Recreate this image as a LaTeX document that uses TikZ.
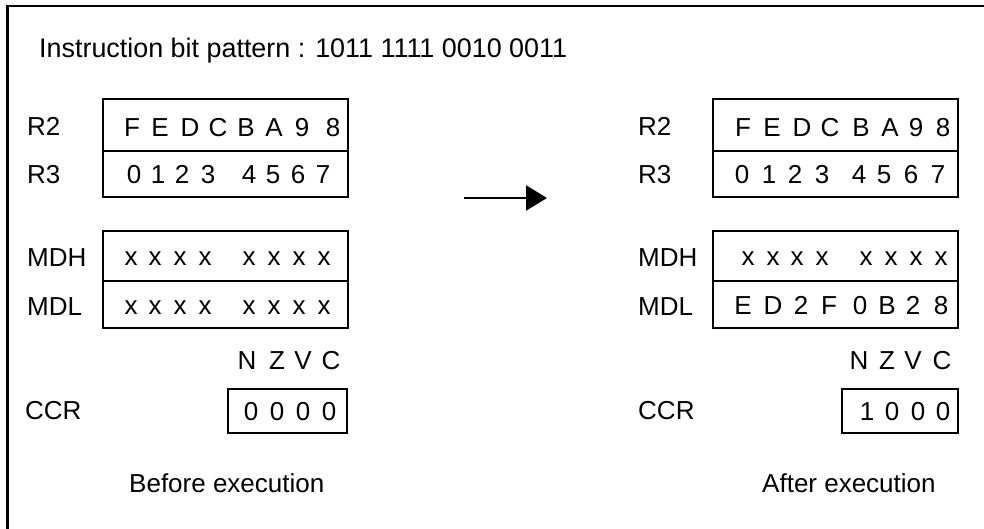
\documentclass[tikz,border=0pt]{standalone}
\usepackage{fontspec}
\setmainfont{Liberation Sans}
\usetikzlibrary{arrows.meta}
\begin{document}
\begin{tikzpicture}[x=1pt,y=-1pt,
  txt/.style={anchor=base, inner sep=0pt, font=\fontsize{26}{30}\selectfont},
  lbl/.style={anchor=base west, inner sep=0pt, font=\fontsize{26}{30}\selectfont},
  titletxt/.style={anchor=base west, inner sep=0pt, font=\fontsize{26.9}{31}\selectfont},
  regbox/.style={draw, line width=1.1pt, inner sep=0pt, minimum width=245pt},
  ccrbox/.style={draw, line width=1.1pt, inner sep=0pt, minimum height=44pt},
  frame/.style={line width=2.5pt},
  goarrow/.style={line width=2.2pt, -{Triangle[length=21pt,width=25pt]}}
]
\useasboundingbox (0,0) rectangle (984,529);
% frame (only top and left edges visible)
\coordinate (fb) at (7.5,529);
\coordinate (fc) at (7.5,6);
\coordinate (fr) at (984,6);
\draw[frame] (fb) -- (fc) -- (fr);

\node[titletxt] (title) at (39,58) {Instruction bit pattern : 1011 1111 0010 0011};

% ---------------- Before ----------------
\node[regbox, minimum height=52pt] (r2L) at (225.5,125) {};
\node[regbox, minimum height=46pt] (r3L) at (225.5,174) {};
\node[regbox, minimum height=50pt] (mdhL) at (225.5,256) {};
\node[regbox, minimum height=47pt] (mdlL) at (225.5,304.5) {};
\node[ccrbox, minimum width=119pt] (ccrL) at (287.5,411) {};

\node[lbl] (r2Llab) at (27,136) {R2};
\node[lbl] (r3Llab) at (27,184) {R3};
\node[lbl] (mdhLlab) at (27,266) {MDH};
\node[lbl] (mdlLlab) at (27,315) {MDL};
\node[lbl] (ccrLlab) at (25,419) {CCR};

\foreach \x/\c [count=\i] in {132/F,160/E,190/D,218/C,246/B,274/A,302/9,333/8}
  \node[txt] (r2Lc\i) at (\x,137) {\c};
\foreach \x/\c [count=\i] in {134/0,158/1,182/2,208/3,249/4,273/5,298/6,323/7}
  \node[txt] (r3Lc\i) at (\x,184) {\c};
\foreach \x [count=\i] in {131,155,180,205,249,274,299,324}
  \node[txt] (mdhLc\i) at (\x,265) {x};
\foreach \x [count=\i] in {131,155,180,205,249,274,299,324}
  \node[txt] (mdlLc\i) at (\x,314) {x};
\foreach \x/\c [count=\i] in {247/N,277/Z,303/V,331/C}
  \node[txt] (flagL\i) at (\x,369) {\c};
\foreach \x/\c [count=\i] in {251/0,277/0,303/0,329/0}
  \node[txt] (ccrLc\i) at (\x,420) {\c};

\node[lbl] (before) at (129,492) {Before execution};

% ---------------- arrow ----------------
\coordinate (as) at (464,198);
\coordinate (ae) at (547,198);
\draw[goarrow] (as) -- (ae);

% ---------------- After ----------------
\node[regbox, minimum height=52pt] (r2R) at (835.5,125) {};
\node[regbox, minimum height=46pt] (r3R) at (835.5,174) {};
\node[regbox, minimum height=50pt] (mdhR) at (835.5,256) {};
\node[regbox, minimum height=47pt] (mdlR) at (835.5,304.5) {};
\node[ccrbox, minimum width=116pt] (ccrR) at (900,411) {};

\node[lbl] (r2Rlab) at (638,136) {R2};
\node[lbl] (r3Rlab) at (638,184) {R3};
\node[lbl] (mdhRlab) at (638,266) {MDH};
\node[lbl] (mdlRlab) at (638,315) {MDL};
\node[lbl] (ccrRlab) at (638,419) {CCR};

\foreach \x/\c [count=\i] in {743/F,772/E,802/D,830/C,861/B,890/A,916/9,943/8}
  \node[txt] (r2Rc\i) at (\x,137) {\c};
\foreach \x/\c [count=\i] in {742/0,769/1,795/2,822/3,859/4,884/5,911/6,938/7}
  \node[txt] (r3Rc\i) at (\x,184) {\c};
\foreach \x [count=\i] in {748,773,797,822,866,891,916,941}
  \node[txt] (mdhRc\i) at (\x,265) {x};
\foreach \x/\c [count=\i] in {743/E,773/D,801/2,829/F,860/0,887/B,913/2,941/8}
  \node[txt] (mdlRc\i) at (\x,314) {\c};
\foreach \x/\c [count=\i] in {859/N,887/Z,913/V,942/C}
  \node[txt] (flagR\i) at (\x,369) {\c};
\foreach \x/\c [count=\i] in {867/1,892/0,918/0,943/0}
  \node[txt] (ccrRc\i) at (\x,420) {\c};

\node[lbl] (after) at (762,492) {After execution};
\end{tikzpicture}
\end{document}
